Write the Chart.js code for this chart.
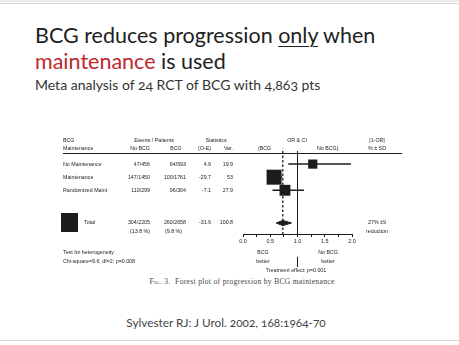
<!DOCTYPE html>
<html>
<head>
<meta charset="utf-8">
<script src="https://cdn.jsdelivr.net/npm/chart.js@4/dist/chart.umd.min.js"></script>
<style>
  body { margin: 0; width: 459px; height: 345px; position: relative; overflow: hidden; background: #fff; font-family: Lato, sans-serif; }
  .rule-top1 { position: absolute; left: 0; top: 0; width: 459px; height: 2px; background: #ececec; }
  .rule-top2 { position: absolute; left: 0; top: 3px; width: 459px; height: 1px; background: #d6d6d6; }
  .rule-bot { position: absolute; left: 0; top: 340px; width: 459px; height: 1px; background: #d6d6d6; }
  .title { position: absolute; left: 35px; top: 21.6px; font-size: 21.5px; line-height: 26.7px; color: #222; font-feature-settings: "onum"; }
  .title u { text-decoration-thickness: 1px; text-underline-offset: 3px; }
  .title .red { color: #c0272d; }
  .sub { position: absolute; left: 35px; top: 77.3px; font-size: 14px; line-height: 16px; color: #333; font-feature-settings: "onum"; }
  .cite { position: absolute; left: 0; width: 452px; top: 316px; text-align: center; font-size: 11.8px; line-height: 13.2px; color: #444; font-feature-settings: "onum"; }
  .caption { position: absolute; left: 0; width: 484px; top: 276.5px; text-align: center; font-family: "Liberation Serif", serif; font-size: 7.5px; line-height: 9px; color: #444; letter-spacing: 0.35px; }
  .caption span { font-variant: small-caps; }
  #plot { position: absolute; left: 0; top: 0; }
</style>
</head>
<body>
<div class="rule-top1"></div>
<div class="rule-top2"></div>
<div class="title">BCG reduces progression <u>only</u> when<br><span class="red">maintenance</span> is used</div>
<div class="sub">Meta analysis of 24 RCT of BCG with 4,863 pts</div>
<div class="caption"><span>Fig.</span> 3.&nbsp; Forest plot of progression by BCG maintenance</div>
<div class="cite">Sylvester RJ: J Urol. 2002, 168:1964-70</div>
<div class="rule-bot"></div>
<canvas id="plot" width="459" height="345"></canvas>
<script>
// rows of the forest plot
const rowLabels = ['No Maintenance', 'Maintenance', 'Randomized Maint'];
const rowPos = [1, 2, 3];
const eventsNoBcg = ['47/456', '147/1450', '110/299'];
const eventsBcg = ['64/593', '100/1761', '96/304'];
const oMinusE = ['4.9', '-29.7', '-7.1'];
const variance = [19.9, 53, 27.9];
const orEst = [1.28, 0.57, 0.77];
const ciLow = [0.83, 0.45, 0.54];
const ciHigh = [1.98, 0.72, 1.12];

// pooled total
const totalPos = 5.5;
const totalNoBcg = ['304/2205', '(13.8 %)'];
const totalBcg = ['260/2658', '(9.8 %)'];
const totalOE = '-31.9';
const totalVar = '100.8';
const totalOR = 0.73;
const totalLow = 0.61;
const totalHigh = 0.89;

const xTicks = [0, 0.5, 1, 1.5, 2];

const FIG_FONT = '"Liberation Sans", Arial, sans-serif';
const INK = '#1c1c1c';
const Y_MAX = 6.34;

function squareRadius(v) {
  // square side grows with sqrt of the weight, biggest one ~15px
  const side = 15 * Math.sqrt(v / Math.max(...variance));
  return side / (2 * Math.SQRT1_2);
}

const ciSets = rowPos.map((y, i) => ({
  data: [{ x: ciLow[i], y: y }, { x: ciHigh[i], y: y }],
  showLine: true,
  borderColor: INK,
  borderWidth: 1.5,
  pointRadius: 0,
}));

const DIA_H = 0.2;
const diamond = [
  { x: totalLow, y: totalPos },
  { x: totalOR, y: totalPos - DIA_H },
  { x: totalHigh, y: totalPos },
  { x: totalOR, y: totalPos + DIA_H },
  { x: totalLow, y: totalPos },
];

const datasets = [
  // line of no effect
  { data: [{ x: 1, y: 0 }, { x: 1, y: Y_MAX }], showLine: true, borderColor: INK, borderWidth: 1, pointRadius: 0 },
  { data: [{ x: 1, y: 8.09 }, { x: 1, y: 8.85 }], showLine: true, borderColor: INK, borderWidth: 1, pointRadius: 0, clip: false },
  // pooled estimate
  { data: [{ x: totalOR, y: 0 }, { x: totalOR, y: Y_MAX }], showLine: true, borderColor: INK, borderWidth: 1.3, borderDash: [2.5, 2], pointRadius: 0 },
  ...ciSets,
  {
    data: rowPos.map((y, i) => ({ x: orEst[i], y: y })),
    pointStyle: 'rect',
    pointRadius: variance.map(squareRadius),
    backgroundColor: INK,
    borderColor: INK,
    borderWidth: 0,
  },
  {
    type: 'line',
    data: diamond,
    fill: 'shape',
    backgroundColor: INK,
    borderColor: INK,
    borderWidth: 1,
    pointRadius: 0,
    tension: 0,
  },
];

const tablePlugin = {
  id: 'forestTable',
  afterDraw(chart) {
    const ctx = chart.ctx;
    const ys = chart.scales.y;
    ctx.save();
    ctx.fillStyle = INK;
    ctx.strokeStyle = INK;
    ctx.font = `5.3px ${FIG_FONT}`;
    ctx.textBaseline = 'middle';
    const put = (t, x, y, align) => {
      ctx.textAlign = align || 'left';
      ctx.fillText(t, x, y);
    };

    // header
    put('BCG', 63, 141);
    put('Maintenance', 63, 148.5);
    put('Events / Patients', 154, 141, 'center');
    put('No BCG', 140, 148.5, 'center');
    put('BCG', 176, 148.5, 'center');
    put('Statistics', 216, 141, 'center');
    put('(O-E)', 204.5, 148.5, 'center');
    put('Var.', 233, 148.5, 'right');
    put('OR & CI', 297, 141, 'center');
    put('(BCG', 258, 148.5);
    put(':', 283, 148.5, 'center');
    put('No BCG)', 317, 148.5);
    put('[1-OR]', 377, 141, 'center');
    put('% \u00b1 SD', 377, 148.5, 'center');
    ctx.lineWidth = 1;
    ctx.beginPath();
    ctx.moveTo(63, 153.5);
    ctx.lineTo(402, 153.5);
    ctx.stroke();

    // rows
    rowLabels.forEach((lab, i) => {
      const y = ys.getPixelForValue(rowPos[i]);
      put(lab, 63, y);
      put(eventsNoBcg[i], 150, y, 'right');
      put(eventsBcg[i], 186, y, 'right');
      put(oMinusE[i], 211, y, 'right');
      put(String(variance[i]), 233, y, 'right');
    });

    // total
    const yt = ys.getPixelForValue(totalPos);
    ctx.fillRect(61, yt - 10, 17, 19);
    put('Total', 84, yt);
    put(totalNoBcg[0], 150, yt, 'right');
    put(totalNoBcg[1], 130, yt + 8.5);
    put(totalBcg[0], 186, yt, 'right');
    put(totalBcg[1], 165, yt + 8.5);
    put(totalOE, 211, yt, 'right');
    put(totalVar, 233, yt, 'right');
    put('27% \u00b19', 377, yt, 'center');
    put('reduction', 377, yt + 8.5, 'center');

    // footer
    put('Test for heterogeneity', 63, 253);
    put('Chi-square=9.6, df=2; p=0.008', 63, 262);
    put('BCG', 263, 253, 'center');
    put('better', 263, 262, 'center');
    put('No BCG', 328, 253, 'center');
    put('better', 328, 262, 'center');
    put('Treatment effect: p=0.001', 296, 270.5, 'center');
    ctx.restore();
  },
};

new Chart(document.getElementById('plot'), {
  type: 'scatter',
  data: { datasets: datasets },
  options: {
    responsive: false,
    devicePixelRatio: 1,
    animation: false,
    layout: { padding: { left: 243, right: 107, top: 151, bottom: 97 } },
    plugins: { legend: { display: false }, tooltip: { enabled: false } },
    scales: {
      x: {
        type: 'linear',
        min: 0,
        max: 2,
        afterFit(scale) { scale.height = 14; },
        border: { display: true, color: INK, width: 1 },
        grid: { drawOnChartArea: false, drawTicks: true, tickLength: 3, color: INK },
        ticks: {
          stepSize: 0.25,
          autoSkip: false,
          maxRotation: 0,
          padding: 1,
          color: INK,
          font: { family: FIG_FONT, size: 5.5 },
          callback: (v) => (xTicks.includes(v) ? v.toFixed(1) : ''),
        },
      },
      y: { type: 'linear', display: false, min: 0, max: Y_MAX, reverse: true },
    },
  },
  plugins: [tablePlugin],
});
</script>
</body>
</html>
